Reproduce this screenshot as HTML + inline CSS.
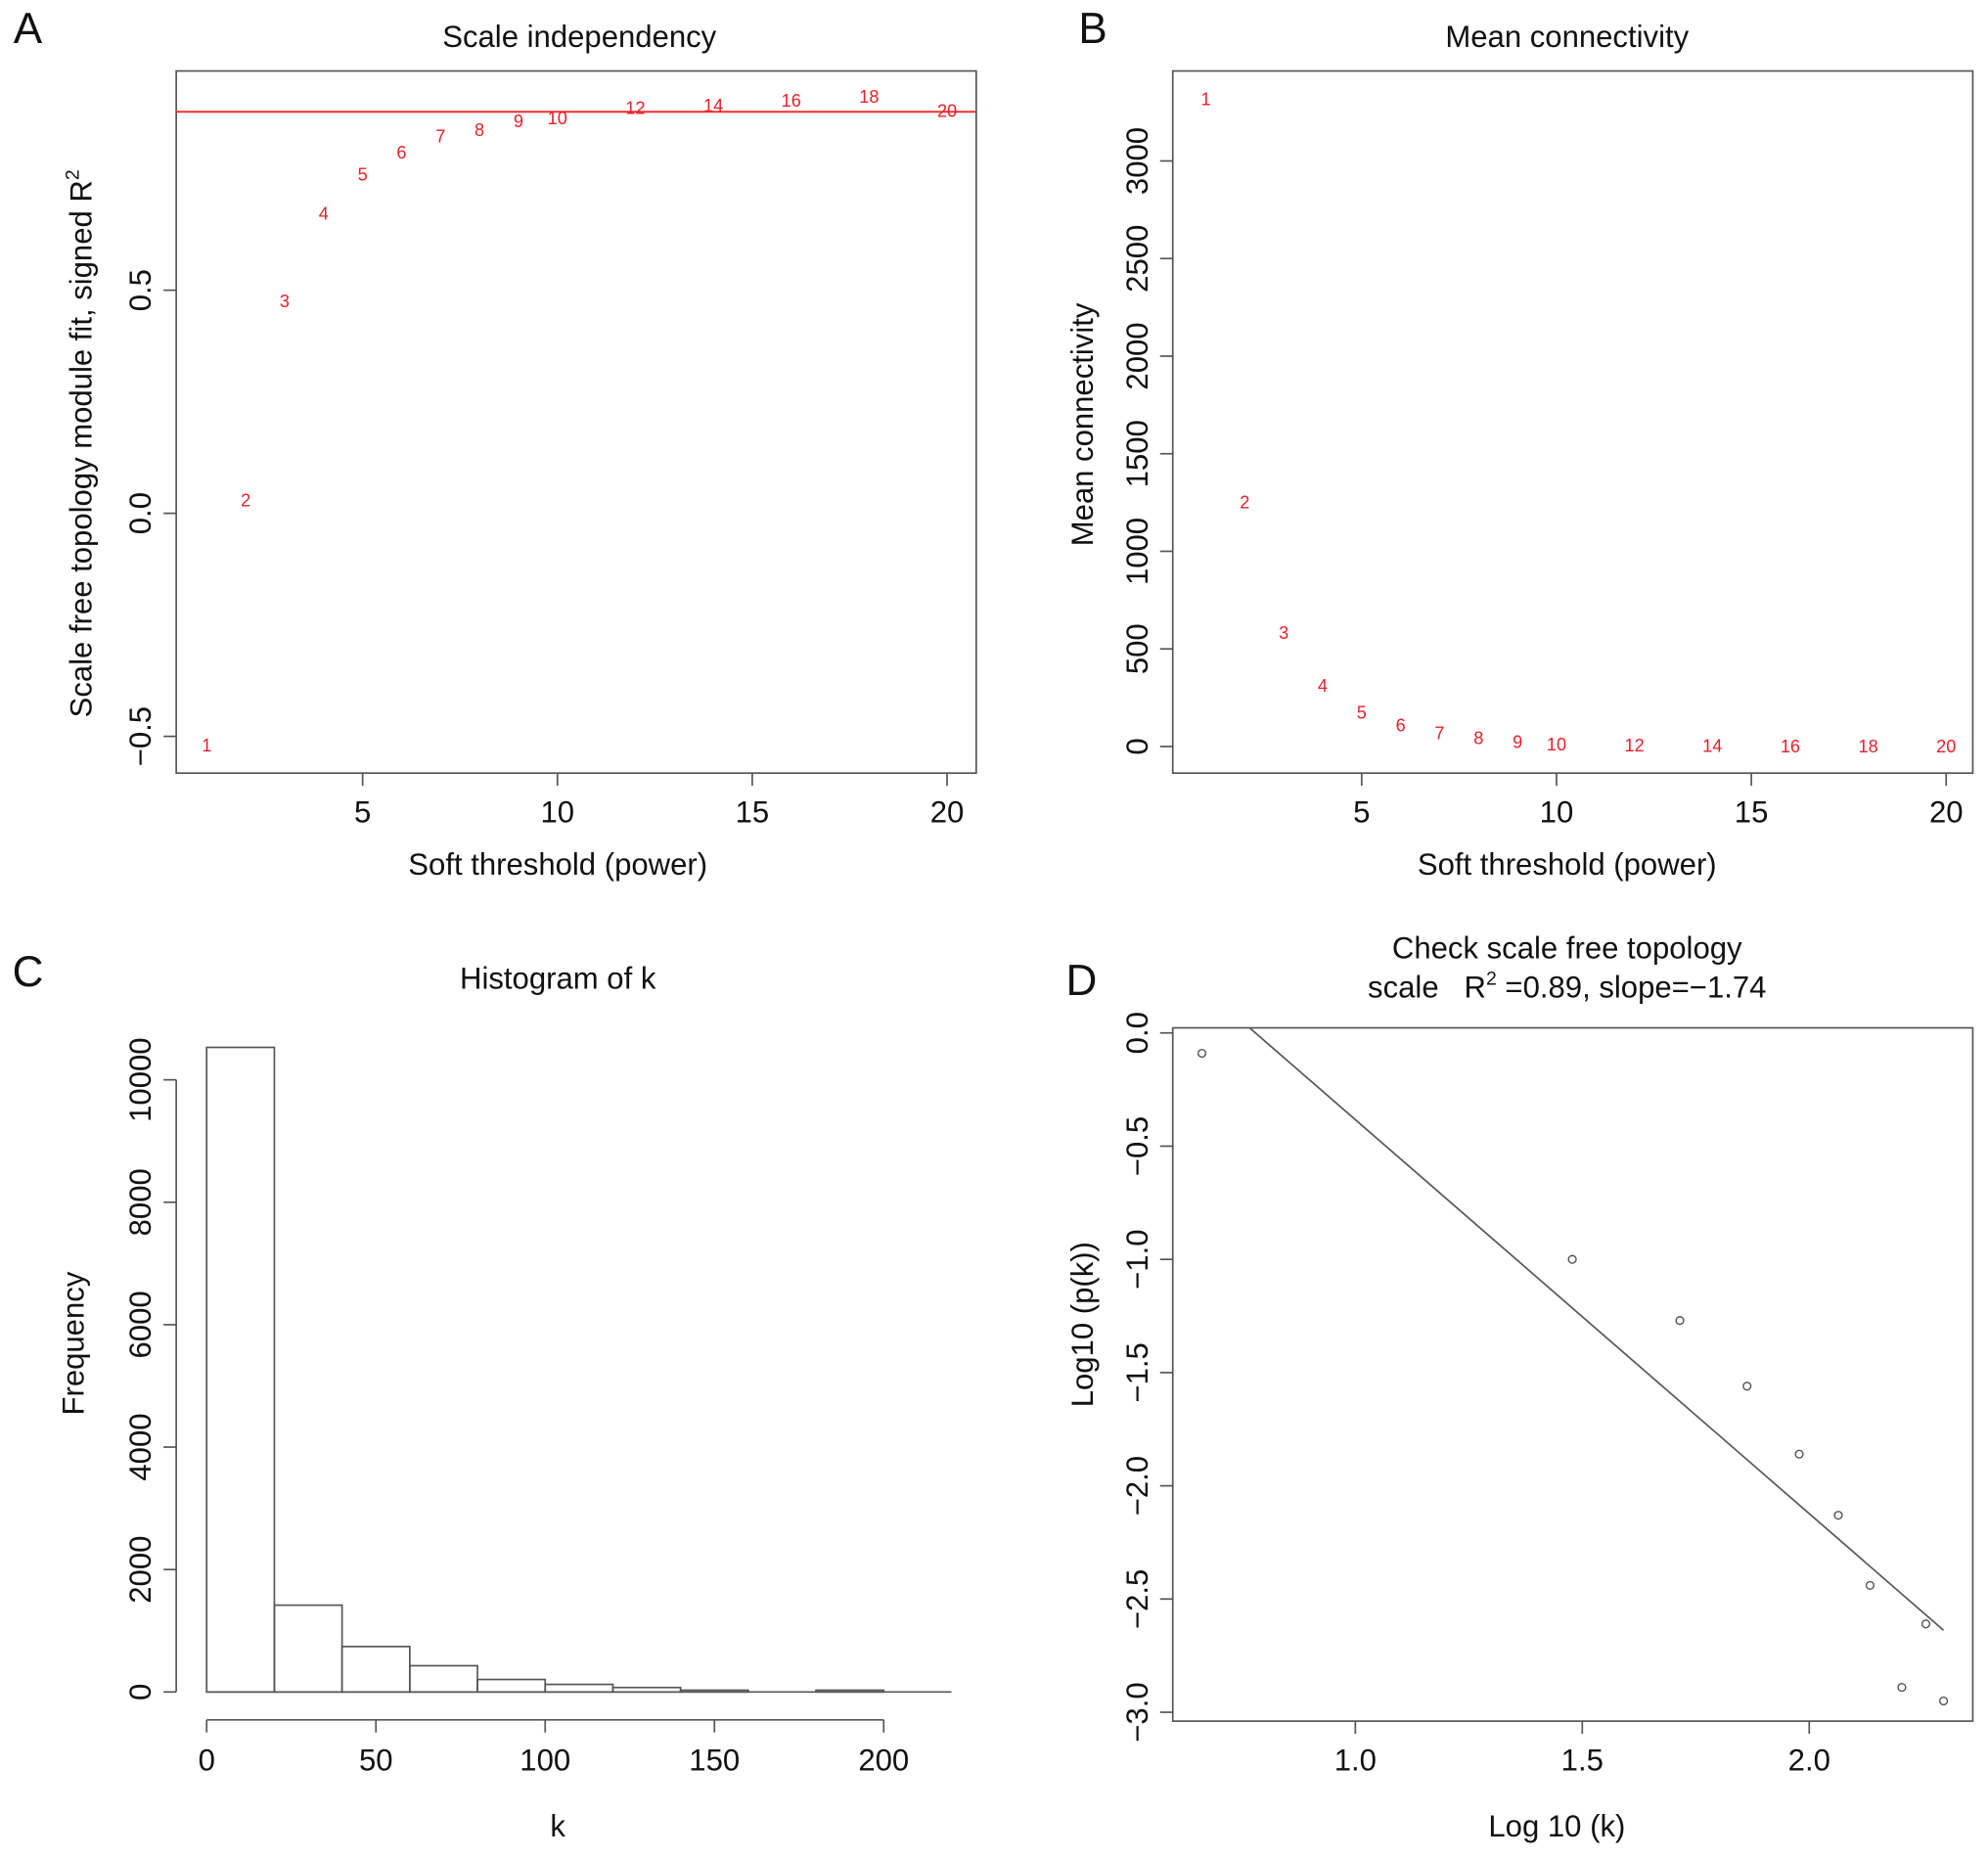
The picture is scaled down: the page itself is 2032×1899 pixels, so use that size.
<!DOCTYPE html>
<html><head><meta charset="utf-8"><style>
html,body{margin:0;padding:0;background:#fff;}
svg{display:block;}
text{font-family:"Liberation Sans",Arial,sans-serif;fill:#111;white-space:pre;}
</style></head><body>
<svg id="fig" width="2032" height="1899" viewBox="0 0 1568 1466" preserveAspectRatio="none" xmlns="http://www.w3.org/2000/svg">
<defs>
<clipPath id="clipA"><rect x="139" y="56" width="631" height="554"/></clipPath>
<clipPath id="clipD"><rect x="925" y="811" width="631" height="547"/></clipPath>
</defs>
<g id="gA"></g>
<g id="gB"></g>
<g id="gC"></g>
<g id="gD"></g>
</svg>
<script>
// Panel A data
const powers = [1,2,3,4,5,6,7,8,9,10,12,14,16,18,20];
const sftR2 = [-0.52,0.03,0.476,0.672,0.76,0.81,0.846,0.86,0.88,0.886,0.909,0.915,0.926,0.934,0.903];
const cutoffR2 = 0.9;
const aXTicks = [5,10,15,20];
const aYTicks = [-0.5,0.0,0.5];
const aYTickLabels = ["\u22120.5","0.0","0.5"];
// Panel B data
const meanK = [3318,1253,584,312,175,110,71,45,26,13,7,4,3,2,1];
const bYTicks = [0,500,1000,1500,2000,2500,3000];
// Panel C data
const binEdges = [0,20,40,60,80,100,120,140,160,180,200,220];
const binCounts = [10530,1418,742,429,204,124,73,29,0,29,0];
const cXTicks = [0,50,100,150,200];
const cYTicks = [0,2000,4000,6000,8000,10000];
// Panel D data
const logK = [0.662,1.478,1.715,1.863,1.978,2.064,2.134,2.204,2.257,2.296];
const logPk = [-0.09,-1.0,-1.27,-1.56,-1.86,-2.13,-2.44,-2.89,-2.61,-2.95];
const fitSlope = -1.74;
const fitIntercept = 1.357;
const dXTicks = [1.0,1.5,2.0];
const dXTickLabels = ["1.0","1.5","2.0"];
const dYTicks = [0,-0.5,-1.0,-1.5,-2.0,-2.5,-3.0];
const dYTickLabels = ["0.0","\u22120.5","\u22121.0","\u22121.5","\u22122.0","\u22122.5","\u22123.0"];

const NS="http://www.w3.org/2000/svg";
function mk(parent,tag,attrs,txt){const e=document.createElementNS(NS,tag);for(const k in attrs)e.setAttribute(k,attrs[k]);if(txt!==undefined)e.textContent=txt;parent.appendChild(e);return e;}
function lin(d0,d1,r0,r1){return v=>r0+(v-d0)*(r1-r0)/(d1-d0);}
const LW=1.3, STK="#555";

function boxAxes(g,box,xs,ys,xt,xtl,yt,ytl){
  const b=mk(g,'rect',{x:box.x0,y:box.y0,width:box.x1-box.x0,height:box.y1-box.y0,fill:'none',stroke:STK,'stroke-width':LW});
  
  
  xt.forEach((v,i)=>{const x=xs(v);
    mk(g,'line',{x1:x,x2:x,y1:box.y1,y2:box.y1+10,stroke:STK,'stroke-width':LW});
    const t=mk(g,'text',{x:x,y:box.y1+39,'font-size':24,'text-anchor':'middle'},xtl[i]);
    
    });
  yt.forEach((v,i)=>{const y=ys(v);
    mk(g,'line',{x1:box.x0-10,x2:box.x0,y1:y,y2:y,stroke:STK,'stroke-width':LW});
    const t=mk(g,'text',{x:box.x0-20,y:y,'font-size':24,'text-anchor':'middle',transform:`rotate(-90 ${box.x0-20} ${y})`},ytl[i]);
    
    });
}
function label(g,x,y,s,size,name,rot){
  const a={x:x,y:y,'font-size':size,'text-anchor':'middle'};
  if(rot)a.transform=`rotate(-90 ${x} ${y})`;
  const t=mk(g,'text',a,s);
  
  
  return t;
}

// ---- Panel A
(function(){
  const g=document.getElementById('gA');
  const box={x0:139,x1:770,y0:56,y1:610};
  const xs=lin(5,20,286,747), ys=lin(0,0.5,405,229);
  boxAxes(g,box,xs,ys,aXTicks,aXTicks.map(String),aYTicks,aYTickLabels);
  const cl=mk(g,'g',{'clip-path':'url(#clipA)'});
  const hl=mk(cl,'line',{x1:box.x0,x2:box.x1,y1:ys(cutoffR2),y2:ys(cutoffR2),stroke:'#f03030','stroke-width':1.5});
  
  
  powers.forEach((p,i)=>{
    const t=mk(g,'text',{x:xs(p),y:ys(sftR2[i])+5,'font-size':14,'text-anchor':'middle',style:'fill:#e8202a'},String(p));
    
    
  });
  label(g,457,37,'Scale independency',24,'chart-title');
  label(g,440,690,'Soft threshold (power)',24,'x-axis-title');
  const yt=label(g,72,350,'Scale free topology module fit, signed R',24,'y-axis-title',true);
  mk(yt,'tspan',{'font-size':15,dy:-10},'2');
  label(g,22,34,'A',34,'panel-letter');
})();

// ---- Panel B
(function(){
  const g=document.getElementById('gB');
  const box={x0:925,x1:1556,y0:56,y1:610};
  const xs=lin(5,20,1074,1535), ys=lin(0,3000,589,127);
  boxAxes(g,box,xs,ys,aXTicks,aXTicks.map(String),bYTicks,bYTicks.map(String));
  powers.forEach((p,i)=>{
    const t=mk(g,'text',{x:xs(p),y:ys(meanK[i])+5,'font-size':14,'text-anchor':'middle',style:'fill:#e8202a'},String(p));
    
    
  });
  label(g,1236,37,'Mean connectivity',24,'chart-title');
  label(g,1236,690,'Soft threshold (power)',24,'x-axis-title');
  label(g,862,335,'Mean connectivity',24,'y-axis-title',true);
  label(g,862,34,'B',34,'panel-letter');
})();

// ---- Panel C
(function(){
  const g=document.getElementById('gC');
  const xs=lin(0,200,163,697), ys=lin(0,10000,1335,852);
  const base=mk(g,'line',{x1:xs(binEdges[0]),x2:xs(binEdges[binEdges.length-1]),y1:ys(0),y2:ys(0),stroke:STK,'stroke-width':LW});
  
  
  for(let i=0;i<binCounts.length;i++){
    const x0=xs(binEdges[i]),x1=xs(binEdges[i+1]),y=ys(binCounts[i]);
    const r=mk(g,'rect',{x:x0,y:y,width:x1-x0,height:ys(0)-y,fill:'none',stroke:STK,'stroke-width':LW});
    
    
  }
  const ya=cYTicks, xa=cXTicks;
  mk(g,'line',{x1:139,x2:139,y1:ys(ya[0]),y2:ys(ya[ya.length-1]),stroke:STK,'stroke-width':LW});
  ya.forEach(v=>{const y=ys(v);
    mk(g,'line',{x1:129,x2:139,y1:y,y2:y,stroke:STK,'stroke-width':LW});
    const t=mk(g,'text',{x:119,y:y,'font-size':24,'text-anchor':'middle',transform:`rotate(-90 119 ${y})`},String(v));
    
    });
  mk(g,'line',{x1:xs(xa[0]),x2:xs(xa[xa.length-1]),y1:1357,y2:1357,stroke:STK,'stroke-width':LW});
  xa.forEach(v=>{const x=xs(v);
    mk(g,'line',{x1:x,x2:x,y1:1357,y2:1367,stroke:STK,'stroke-width':LW});
    const t=mk(g,'text',{x:x,y:1397,'font-size':24,'text-anchor':'middle'},String(v));
    
    });
  label(g,440,780,'Histogram of k',24,'chart-title');
  label(g,440,1449,'k',24,'x-axis-title');
  label(g,66,1060,'Frequency',24,'y-axis-title',true);
  label(g,22,778,'C',34,'panel-letter');
})();

// ---- Panel D
(function(){
  const g=document.getElementById('gD');
  const box={x0:925,x1:1556,y0:811,y1:1358};
  const xs=lin(1.0,2.0,1069,1427), ys=lin(0,-3,815,1351);
  boxAxes(g,box,xs,ys,dXTicks,dXTickLabels,dYTicks,dYTickLabels);
  const cl=mk(g,'g',{'clip-path':'url(#clipD)'});
  const xmin=Math.min(...logK), xmax=Math.max(...logK);
  const fl=mk(cl,'line',{x1:xs(xmin),y1:ys(fitIntercept+fitSlope*xmin),x2:xs(xmax),y2:ys(fitIntercept+fitSlope*xmax),stroke:STK,'stroke-width':1.3});
  
  
  logK.forEach((v,i)=>{
    const c=mk(g,'circle',{cx:xs(v),cy:ys(logPk[i]),r:3,fill:'none',stroke:STK,'stroke-width':1.1});
    
    
  });
  label(g,1236,756,'Check scale free topology',24,'chart-title');
  const st=label(g,1236,787,'',24,'chart-subtitle');
  st.textContent='scale   R';
  mk(st,'tspan',{'font-size':15,dy:-10},'2');
  mk(st,'tspan',{dy:10},' =0.89, slope=\u22121.74');
  label(g,1228,1449,'Log 10 (k)',24,'x-axis-title');
  label(g,862,1045,'Log10 (p(k))',24,'y-axis-title',true);
  label(g,853,785,'D',34,'panel-letter');
})();
</script>
</body></html>
